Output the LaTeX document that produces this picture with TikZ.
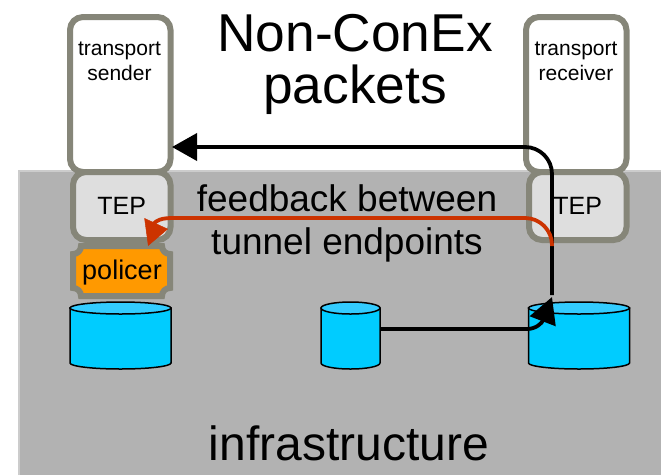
\documentclass[tikz,border=0pt]{standalone}
\usepackage{fontspec}
\setmainfont{Liberation Sans}
\usetikzlibrary{arrows.meta}
\definecolor{boxgrey}{HTML}{868679}
\definecolor{infragrey}{HTML}{B2B2B2}
\definecolor{queueblue}{HTML}{00CCFF}
\definecolor{queuetop}{HTML}{33CCFF}
\definecolor{policerorange}{HTML}{FF9900}
\definecolor{feedbackred}{HTML}{CC3300}
\begin{document}
\begin{tikzpicture}[x=1pt,y=-1pt,
        host/.style={rectangle,draw=boxgrey,line width=6pt,fill=white,rounded corners=13pt,inner sep=0pt},
        tep/.style={host,fill=black!13,minimum height=68pt,font=\fontsize{25}{25}\selectfont},
        queue/.style={draw=black,line width=1.5pt,fill=queueblue},
        flow/.style={line width=3.8pt,rounded corners=27pt},
        hosttext/.style={align=center,inner sep=0pt,font=\fontsize{21}{25}\selectfont}]
\useasboundingbox (0,0) rectangle (661,475);

\fill[infragrey] (19,171) rectangle (661,475);
\draw[black!20,line width=1.5pt] (19,475) -- (19,171) -- (661,171);

\node[host,minimum width=100.5pt,minimum height=155pt] (sender) at (120.25,94.5) {};
\node[host,minimum width=100.5pt,minimum height=155pt] (receiver) at (576.25,94.5) {};
\node[hosttext] (sendertext) at (119.5,61) {transport\\sender};
\node[hosttext] (receivertext) at (576,61) {transport\\receiver};

% policer goes under the TEP
\draw[boxgrey,line width=6pt,fill=policerorange] (81,246) -- (162,246)
    .. controls (162,250.5) and (165.5,254) .. (170,254) -- (170,288)
    .. controls (165.5,288) and (162,291.5) .. (162,296) -- (81,296)
    .. controls (81,291.5) and (77.5,288) .. (73,288) -- (73,254)
    .. controls (77.5,254) and (81,250.5) .. (81,246) -- cycle;
\node[inner sep=0pt,font=\fontsize{27}{27}\selectfont] (policer) at (122,273) {policer};

\node[tep,minimum width=97.5pt] (septep) at (121.75,206) {TEP};
\node[tep,minimum width=97.5pt] (retep) at (577.75,206) {TEP};

\foreach \qname/\qx/\qr in {senderq/120.5/50.5,midq/350.5/29.5,receiverq/579/50.5}{
    \draw[queue] (\qx-\qr,308) -- (\qx-\qr,363)
        arc[start angle=180,end angle=360,x radius=\qr pt,y radius=6pt] -- (\qx+\qr,308) -- cycle;
    \draw[queue,fill=queuetop] (\qx,308) ellipse[x radius=\qr pt,y radius=6pt];
    \node[minimum width=2*\qr pt,minimum height=67pt,inner sep=0pt,outer sep=0pt] (\qname) at (\qx,335.5) {};
}

\node[align=center,font=\fontsize{53.3}{52}\selectfont] (title) at (355,64) {Non-ConEx\\packets};
\node[align=center,font=\fontsize{37}{43}\selectfont] (feedback) at (347,223) {feedback between\\tunnel endpoints};
\node[anchor=base,font=\fontsize{48}{48}\selectfont] (infra) at (349,460) {infrastructure};

\coordinate (senderin) at (172,147);
\coordinate (turn) at (552,147);
\coordinate (rebottom) at (552,295);
\coordinate (retip) at (552,297);
\coordinate (redstart) at (552,246);
\coordinate (redturn) at (552,218);
\coordinate (redbend) at (150,232);
\coordinate (redbase) at (146,232);
\coordinate (septip) at (168,229);

\draw[flow,-{Triangle[length=25pt,width=27pt]}] (rebottom) -- (turn) -- (senderin);
\draw[line width=3.8pt,-{Triangle[length=26pt,width=27pt]}] (midq.east |- 0,329) -- (527,329)
    .. controls (536,329) and (542,323) .. (retip);
\draw[flow,feedbackred] (redstart) -- (redturn) -- (175,218);
\draw[line width=3.8pt,feedbackred] (176,218) -- (172,218) .. controls (158,218) and (152,222) .. (redbend);
\draw[line width=0.5pt,feedbackred,-{Triangle[length=22pt,width=28pt]}] (redbase) -- (septip);
\end{tikzpicture}
\end{document}
